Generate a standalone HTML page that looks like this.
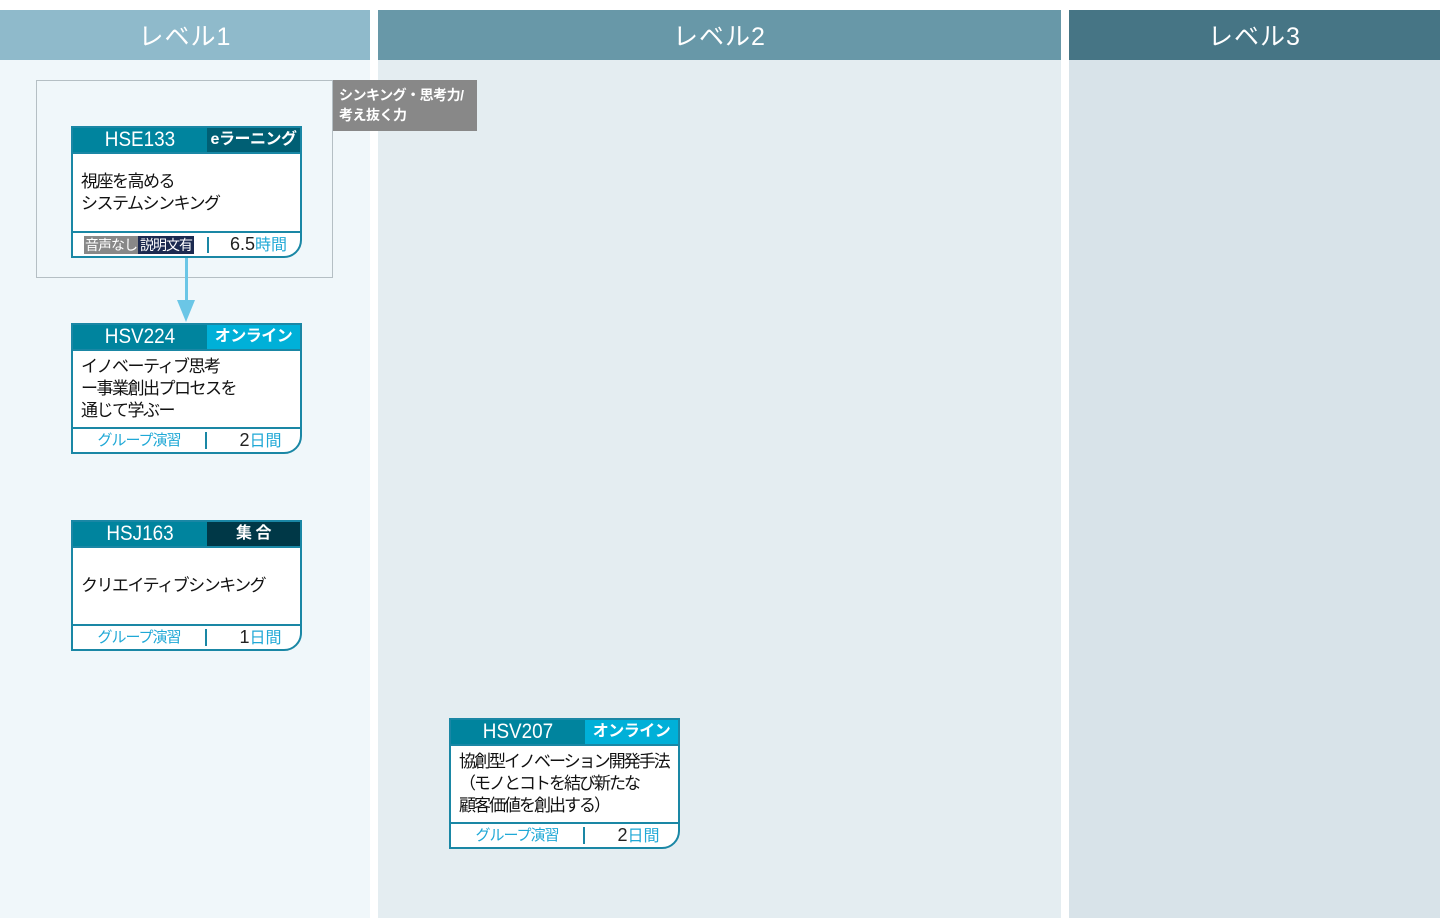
<!DOCTYPE html>
<html><head><meta charset="utf-8"><style>
*{margin:0;padding:0;box-sizing:border-box}
body{width:1440px;height:918px;position:relative;background:#fff;font-family:"Liberation Sans","Noto Sans CJK JP",sans-serif;overflow:hidden}
.a{position:absolute}
.hd{color:#fff;font-size:25px;text-align:center;line-height:54px;top:10px;height:50px;letter-spacing:1px}
.card{position:absolute;width:231px;border:2px solid #1a87a5;background:#fff}
.ch{height:24px;background:#00849e;color:#fff;display:flex}
.ch .c{width:134px;text-align:center;font-size:21px;line-height:24px;transform:scaleX(.9)}
.ch .t{flex:1;text-align:center;font-size:16px;font-weight:bold;line-height:24px;white-space:nowrap;letter-spacing:-.5px}
.cb{border-top:2px solid #1a87a5;border-bottom:2px solid #1a87a5;font-size:17px;line-height:22px;padding:0 8px;display:flex;align-items:center;color:#111;white-space:nowrap;letter-spacing:-1.5px}
.cf{height:23px;display:flex;font-size:15px;line-height:23px;border-bottom-right-radius:18px;white-space:nowrap}
.cf .l{width:134px;text-align:center;color:#1fa8d6;border-right:2px solid #1a87a5;margin:3px 0;line-height:17px;letter-spacing:-1px}
.cf .r{flex:1;text-align:center;font-size:18px;color:#222;padding-left:14px}
.cf .r span{color:#1fa8d6;font-size:16px}
</style></head><body>
<div class="a" style="left:0;top:60px;width:370px;height:858px;background:#f0f7fa"></div>
<div class="a" style="left:378px;top:60px;width:683px;height:858px;background:#e4edf1"></div>
<div class="a" style="left:1069px;top:60px;width:371px;height:858px;background:#d8e3e9"></div>
<div class="a hd" style="left:0;width:370px;background:#8fbacb">レベル1</div>
<div class="a hd" style="left:378px;width:683px;background:#6898a8">レベル2</div>
<div class="a hd" style="left:1069px;width:371px;background:#467585">レベル3</div>

<div class="a" style="left:36px;top:80px;width:297px;height:198px;border:1px solid #b5bfc4"></div>
<div class="a" style="left:333px;top:80px;width:144px;height:51px;background:#888;color:#fff;font-size:14px;line-height:20px;padding:5px 6px;font-weight:bold;letter-spacing:-.5px">シンキング・思考力/<br>考え抜く力</div>

<div class="a" style="left:185px;top:256px;width:3px;height:50px;background:#6bc6e6"></div>
<div class="a" style="left:177px;top:300px;width:0;height:0;border-left:9px solid transparent;border-right:9px solid transparent;border-top:22px solid #6bc6e6"></div>

<div class="card" style="left:71px;top:126px;border-bottom-right-radius:18px">
 <div class="ch"><div class="c">HSE133</div><div class="t" style="background:#005f74">eラーニング</div></div>
 <div class="cb" style="height:81px">視座を高める<br>システムシンキング</div>
 <div class="cf"><div style="width:124px;display:flex;align-items:center;padding-left:11px;font-size:14px;color:#fff;letter-spacing:-1px;line-height:18px"><span style="background:#888;padding:0 1px">音声なし</span><span style="background:#1c2a50;padding:0 2px">説明文有</span></div><div style="width:2px;background:#1a87a5;margin:4px 0 3px 10px"></div><div class="r" style="padding-left:8px">6.5<span>時間</span></div></div>
</div>

<div class="card" style="left:71px;top:323px;border-bottom-right-radius:18px">
 <div class="ch"><div class="c">HSV224</div><div class="t" style="background:#00b0d8">オンライン</div></div>
 <div class="cb" style="height:80px">イノベーティブ思考<br>ー事業創出プロセスを<br>通じて学ぶー</div>
 <div class="cf"><div class="l">グループ演習</div><div class="r">2<span>日間</span></div></div>
</div>

<div class="card" style="left:71px;top:520px;border-bottom-right-radius:18px">
 <div class="ch"><div class="c">HSJ163</div><div class="t" style="background:#003847">集 合</div></div>
 <div class="cb" style="height:80px">クリエイティブシンキング</div>
 <div class="cf"><div class="l">グループ演習</div><div class="r">1<span>日間</span></div></div>
</div>

<div class="card" style="left:449px;top:718px;border-bottom-right-radius:18px">
 <div class="ch"><div class="c">HSV207</div><div class="t" style="background:#00b0d8">オンライン</div></div>
 <div class="cb" style="height:80px;letter-spacing:-2px">協創型イノベーション開発手法<br>（モノとコトを結び新たな<br>顧客価値を創出する）</div>
 <div class="cf"><div class="l">グループ演習</div><div class="r">2<span>日間</span></div></div>
</div>
</body></html>
